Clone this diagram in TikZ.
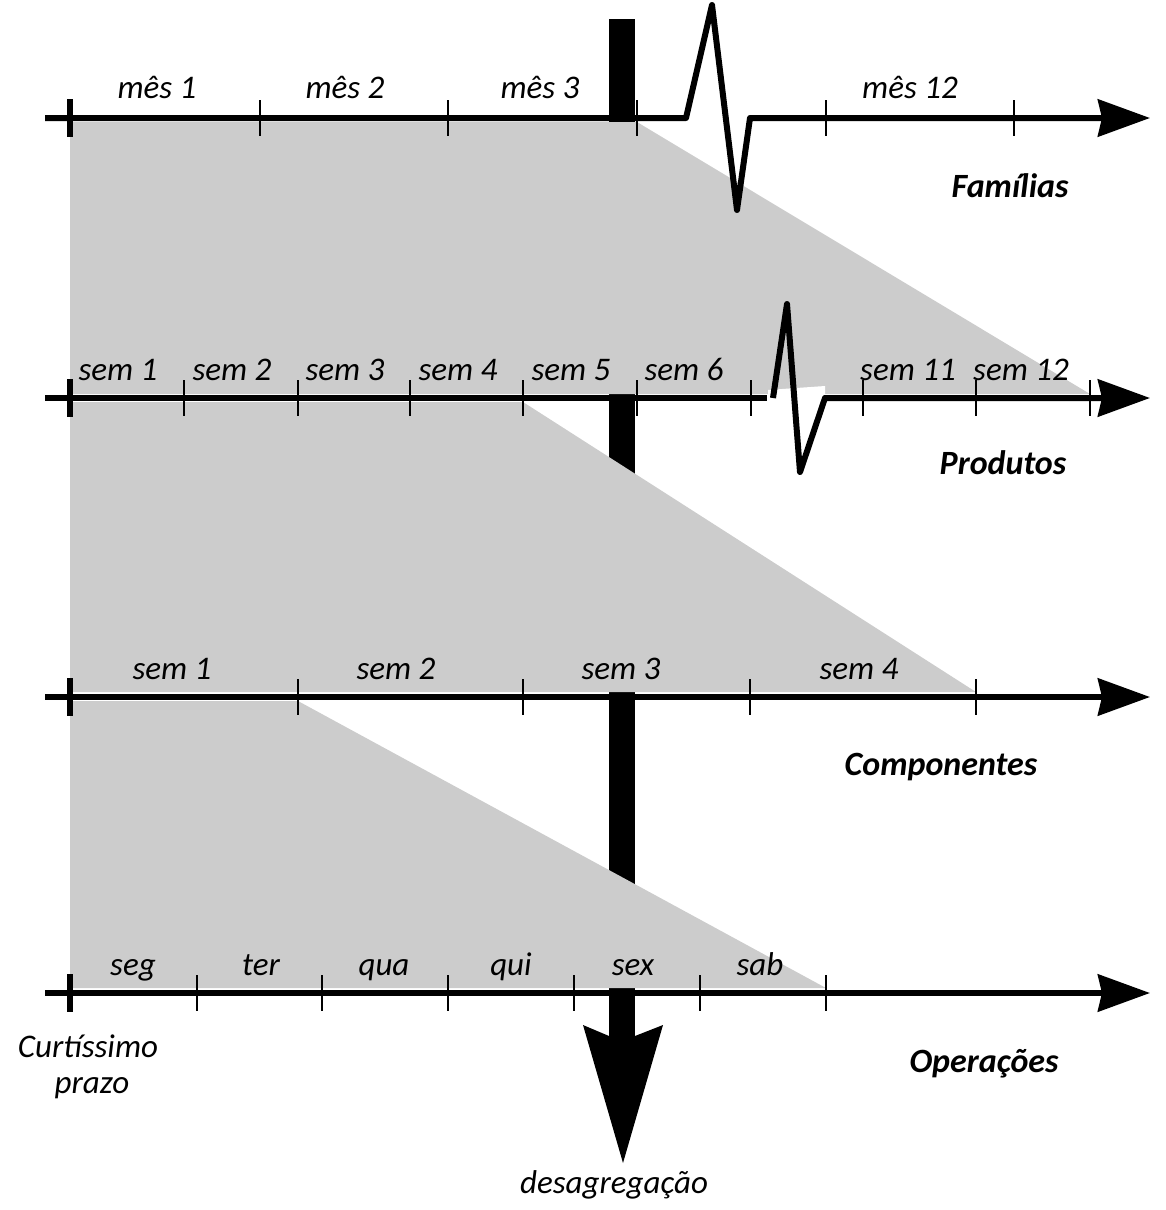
\documentclass[tikz,border=0pt]{standalone}
\usepackage{fontspec}
\setmainfont{Carlito}
\usepackage{tikz}
\usetikzlibrary{arrows.meta}

\definecolor{faixa}{gray}{0.8}

\begin{document}
\begin{tikzpicture}[x=1pt,y=-1pt,
	eixo/.style={line width=6pt,line join=round,-{Stealth[length=52pt,width=37pt,inset=4pt]}},
	marca/.style={line width=2.5pt},
	marca0/.style={line width=6pt},
	rot/.style={font=\fontsize{33}{37}\selectfont\itshape,anchor=base,inner sep=0pt},
	nivel/.style={font=\fontsize{34}{38}\selectfont\bfseries\itshape,anchor=base,inner sep=0pt}]
				\useasboundingbox (0,0) rectangle (1165,1210);
				
				% barra da desagregacao (fica por baixo das faixas)
				\fill (609,19) rectangle (635,1037);
				\fill (609,1036) -- (583,1025) -- (623,1163) -- (663,1025) -- (635,1036) -- cycle;
				
				% faixas cinza
				\fill[faixa] (70,122) -- (637,122) -- (1090,394) -- (70,394) -- cycle;
				\fill[faixa] (70,402) -- (523,402) -- (976,692) -- (70,692) -- cycle;
				\fill[faixa] (70,701) -- (298,701) -- (826,988) -- (70,988) -- cycle;
				\fill[white] (768,390) -- (825,386) -- (825,399) -- (768,399) -- cycle;
				
				% eixos
				\draw[eixo] (45,118) -- (686,118) -- (712,5) -- (737,210) -- (750,118) -- (1150,118);
				\draw[line width=6pt] (45,398) -- (767,398);
				\draw[eixo] (773,398) -- (787,304) -- (800,472) -- (825,398) -- (1150,398);
				\draw[eixo] (45,697) -- (1150,697);
				\draw[eixo] (45,993) -- (1150,993);
				
				% marcas
				\draw[marca0] (70,99) -- (70,137) (70,379) -- (70,417) (70,678) -- (70,716) (70,974) -- (70,1012);
				\draw[marca] (260,100) -- (260,136) (448,100) -- (448,136) (637,100) -- (637,136)
					(826,100) -- (826,136) (1014,100) -- (1014,136);
				\draw[marca] (184,380) -- (184,416) (298,380) -- (298,416) (410,380) -- (410,416)
					(523,380) -- (523,416) (637,380) -- (637,416) (751,380) -- (751,416)
					(863,380) -- (863,416) (976,380) -- (976,416) (1090,380) -- (1090,416);
				\draw[marca] (298,679) -- (298,715) (523,679) -- (523,715) (750,679) -- (750,715) (976,679) -- (976,715);
				\draw[marca] (197,975) -- (197,1011) (322,975) -- (322,1011) (448,975) -- (448,1011)
					(574,975) -- (574,1011) (700,975) -- (700,1011) (826,975) -- (826,1011);
				
				\node[rot] (m1) at (157,98) {mês 1};
				\node[rot] (m2) at (345,98) {mês 2};
				\node[rot] (m3) at (540,98) {mês 3};
				\node[rot] (m12) at (910,98) {mês 12};
				
				\node[rot] (p1) at (118,380) {sem 1};
				\node[rot] (p2) at (232,380) {sem 2};
				\node[rot] (p3) at (345,380) {sem 3};
				\node[rot] (p4) at (458,380) {sem 4};
				\node[rot] (p5) at (571,380) {sem 5};
				\node[rot] (p6) at (684,380) {sem 6};
				\node[rot] (p11) at (908,380) {sem 11};
				\node[rot] (p12) at (1021,380) {sem 12};
				
				\node[rot] (c1) at (172,679) {sem 1};
				\node[rot] (c2) at (396,679) {sem 2};
				\node[rot] (c3) at (621,679) {sem 3};
				\node[rot] (c4) at (859,679) {sem 4};
				
				\node[rot] (seg) at (133,975) {seg};
				\node[rot] (ter) at (261,975) {ter};
				\node[rot] (qua) at (384,975) {qua};
				\node[rot] (qui) at (511,975) {qui};
				\node[rot] (sex) at (633,975) {sex};
				\node[rot] (sab) at (760,975) {sab};
				
				\node[nivel] (fam) at (1010,197) {Famílias};
				\node[nivel] (prod) at (1003,474) {Produtos};
				\node[nivel] (comp) at (941,775) {Componentes};
				\node[nivel] (oper) at (984,1072) {Operações};
				
				\node[rot] (curto) at (88,1057) {Curtíssimo};
				\node[rot] (prazo) at (92,1093) {prazo};
				\node[rot] (desag) at (614,1193) {desagregação};
			\end{tikzpicture}
\end{document}
